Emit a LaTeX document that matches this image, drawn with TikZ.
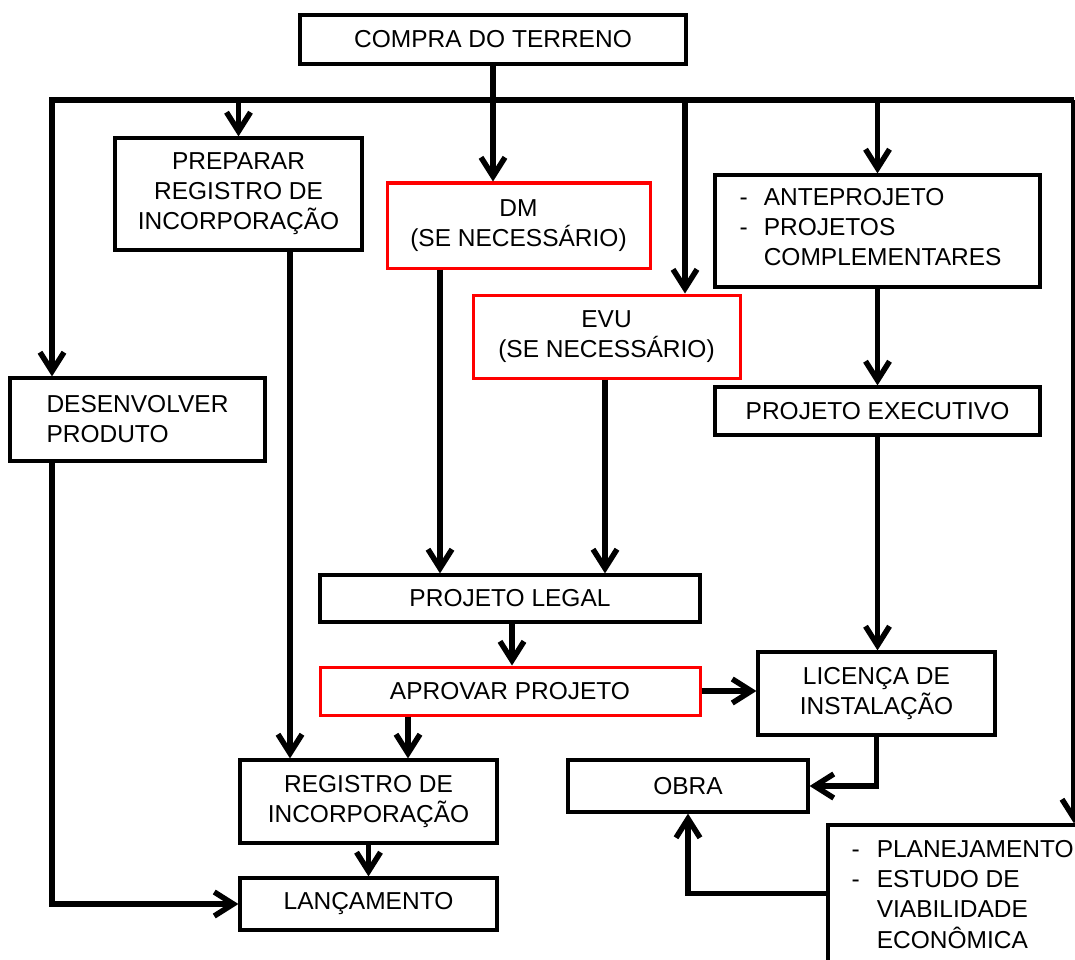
\documentclass[tikz,border=0pt]{standalone}
\usepackage{fontspec}
\setmainfont{Liberation Sans}
\usetikzlibrary{arrows.meta,calc}
\begin{document}
\begin{tikzpicture}[x=1pt,y=-1pt,
  box/.style={draw=black, line width=3.2pt, fill=white, inner sep=0pt, align=center,
    font=\fontsize{24.5}{30}\selectfont},
  redbox/.style={box, draw=red, line width=3pt},
  txt/.style={inner sep=0pt, anchor=north west, font=\fontsize{24.5}{30}\selectfont},
  conn/.style={line width=5.5pt, line join=miter, -{Straight Barb[length=19pt,width=24pt]}}]
\clip (0,0) rectangle (1075,960);
\fill[white] (0,0) rectangle (1075,960);
% boxes
\node[box, minimum width=386pt, minimum height=49pt] (compra) at (493,39.5) {COMPRA DO TERRENO};
\node[box, minimum width=247pt, minimum height=112pt] (prep) at (238.5,194) {PREPARAR\\REGISTRO DE\\INCORPORAÇÃO};
\node[redbox, minimum width=263pt, minimum height=85pt] (dm) at (518.5,225.5) {DM\\(SE NECESSÁRIO)};
\node[redbox, minimum width=267pt, minimum height=83pt] (evu) at (606.5,336.5) {EVU\\(SE NECESSÁRIO)};
\node[box, minimum width=325pt, minimum height=112pt] (ante) at (877.5,231) {};
\node[box, minimum width=325pt, minimum height=48pt] (exec) at (877.5,411) {PROJETO EXECUTIVO};
\node[box, minimum width=255pt, minimum height=83pt, align=left] (desenv) at (137.5,419.5) {DESENVOLVER\\PRODUTO};
\node[box, minimum width=380pt, minimum height=47pt] (legal) at (510,598.5) {PROJETO LEGAL};
\node[redbox, minimum width=380pt, minimum height=48pt] (aprov) at (510,691) {APROVAR PROJETO};
\node[box, minimum width=237pt, minimum height=83pt] (lic) at (876.5,693.5) {LICENÇA DE\\INSTALAÇÃO};
\node[box, minimum width=257pt, minimum height=83pt] (reg) at (368.5,801.5) {REGISTRO DE\\INCORPORAÇÃO};
\node[box, minimum width=240pt, minimum height=52pt] (obra) at (688,786) {OBRA};
\node[box, minimum width=257pt, minimum height=52pt] (lanc) at (368.5,904) {LANÇAMENTO};
\node[box, minimum width=282pt, minimum height=175pt] (plan) at (969,912.5) {};
% texts inside list boxes
\node[txt] (antetxt) at ($(ante.north west)+(26,11)$)
  {\begin{tabular}{@{}l@{\hspace{16pt}}l@{}}-&ANTEPROJETO\\-&PROJETOS\\&COMPLEMENTARES\end{tabular}};
\node[txt] (plantxt) at ($(plan.north west)+(25,13)$)
  {\begin{tabular}{@{}l@{\hspace{17pt}}l@{}}-&PLANEJAMENTO\\-&ESTUDO DE\\&VIABILIDADE\\&ECONÔMICA\end{tabular}};
% helper coordinates
\coordinate (busL) at (52,100);
\coordinate (busR) at (1074,100);
\coordinate (x685) at (685,0);
\coordinate (x290) at (290,0);
\coordinate (x440) at (440,0);
\coordinate (x605) at (605,0);
\coordinate (x512) at (512,0);
\coordinate (x408) at (408,0);
% connectors
\draw[conn] (busR) -- (busL) -- (busL |- desenv.north);
\draw[conn] (busR) -- (busR |- plan.north);
\draw[conn] (compra.south) -- (compra.south |- dm.north);
\draw[conn] (prep.north |- busL) -- (prep.north);
\draw[conn] (x685 |- busL) -- (x685 |- evu.north);
\draw[conn] (ante.north |- busL) -- (ante.north);
\draw[conn] (prep.south -| x290) -- (reg.north -| x290);
\draw[conn] (dm.south -| x440) -- (legal.north -| x440);
\draw[conn] (evu.south -| x605) -- (legal.north -| x605);
\draw[conn] (legal.south -| x512) -- (aprov.north -| x512);
\draw[conn] (aprov.south -| x408) -- (reg.north -| x408);
\draw[conn] (aprov.east) -- (aprov.east -| lic.west);
\draw[conn] (ante.south) -- (exec.north);
\draw[conn] (exec.south) -- (exec.south |- lic.north);
\draw[conn] (lic.south) |- (obra.east);
\draw[conn] (reg.south) -- (lanc.north);
\draw[conn] (busL |- desenv.south) |- (lanc.west);
\draw[conn] ($(plan.north west)+(0,70)$) -| (obra.south);
\end{tikzpicture}
\end{document}
